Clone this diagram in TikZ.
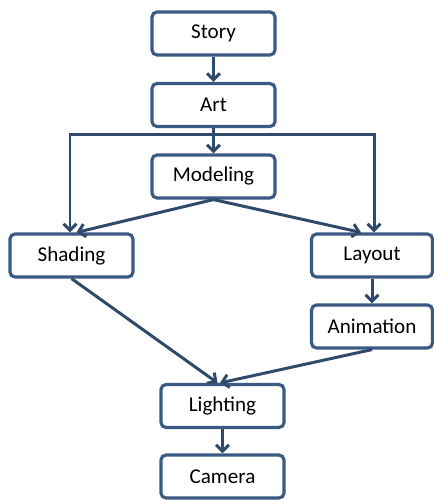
\documentclass[tikz,border=0pt]{standalone}
\usepackage{fontspec}
\setmainfont{Carlito}
\usetikzlibrary{arrows.meta}
\definecolor{boxline}{RGB}{58,90,132}
\definecolor{arrline}{RGB}{48,74,108}

\begin{document}
\begin{tikzpicture}[
  stage/.style={draw=boxline, line width=1.8pt, rounded corners=.1cm, fill=white,
    minimum width=2.46cm, minimum height=.86cm, inner sep=0pt, font=\fontsize{12}{14}\selectfont},
  flow/.style={draw=arrline, line width=1.7pt, -{Straight Barb[length=1.3mm,width=2.6mm,line width=1.7pt]}}]
\useasboundingbox (0,0) rectangle (8.66,10);
\node[stage] (story) at (4.27,9.33) {Story};
\node[stage] (art) at (4.27,7.9) {Art};
\node[stage] (modeling) at (4.27,6.47) {Modeling};
\node[stage] (shading) at (1.43,4.89) {Shading};
\node[stage, minimum width=2.42cm] (layout) at (7.44,4.89) {Layout};
\node[stage, minimum width=2.42cm] (animation) at (7.44,3.47) {Animation};
\node[stage] (lighting) at (4.45,1.88) {Lighting};
\node[stage] (camera) at (4.45,0.47) {Camera};
\coordinate (bus) at (4.27,7.3);
\coordinate (busleft) at (1.4,7.3);
\coordinate (busright) at (7.48,7.3);
\draw[flow] (story) -- (art);
\draw[flow] (art) -- (modeling);
\draw[flow] (art.south) -- (bus) -- (busleft) -- (busleft |- shading.north);
\draw[flow] (art.south) -- (bus) -- (busright) -- (busright |- layout.north);
\draw[flow] (modeling.south) -- ([xshift=.1cm]shading.north);
\draw[flow] (modeling.south) -- ([xshift=-.22cm]layout.north);
\draw[flow] (layout) -- (animation);
\draw[flow] (shading.south) -- ([xshift=-.1cm]lighting.north);
\draw[flow] (animation.south) -- ([xshift=-.05cm]lighting.north);
\draw[flow] (lighting) -- (camera);
\end{tikzpicture}
\end{document}
